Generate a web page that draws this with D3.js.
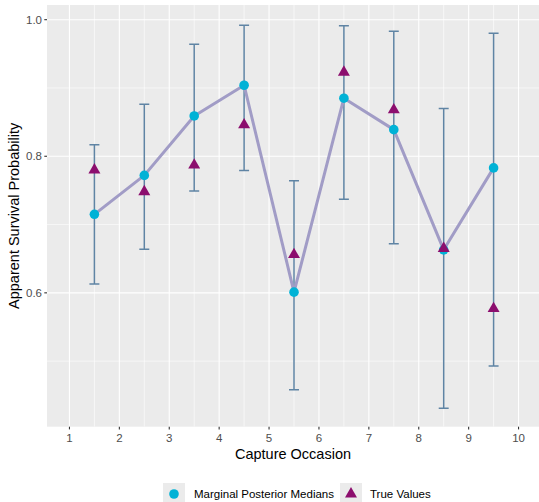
<!DOCTYPE html>
<html>
<head>
<meta charset="utf-8">
<script src="https://cdn.jsdelivr.net/npm/d3@7"></script>
<style>
  html, body { margin: 0; padding: 0; background: #fff; }
  svg { display: block; font-family: "Liberation Sans", Arial, Helvetica, sans-serif; }
</style>
</head>
<body>
<svg id="chart" width="539" height="502"></svg>
<script>
// ---- data ----
const occasions = [1.5, 2.5, 3.5, 4.5, 5.5, 6.5, 7.5, 8.5, 9.5];
const medians   = [0.715, 0.772, 0.859, 0.904, 0.601, 0.885, 0.839, 0.663, 0.783];
const trueVals  = [0.780, 0.748, 0.787, 0.846, 0.656, 0.923, 0.868, 0.665, 0.577];
const lower     = [0.613, 0.664, 0.749, 0.779, 0.458, 0.737, 0.672, 0.431, 0.493];
const upper     = [0.817, 0.876, 0.964, 0.992, 0.764, 0.991, 0.983, 0.870, 0.980];
const xTicks = [1, 2, 3, 4, 5, 6, 7, 8, 9, 10];
const xMinor = [1.5, 2.5, 3.5, 4.5, 5.5, 6.5, 7.5, 8.5, 9.5];
const yTicks = [0.6, 0.8, 1.0];
const yMinor = [0.5, 0.7, 0.9];
const legendLabels = ["Marginal Posterior Medians", "True Values"];

// ---- layout ----
const svg = d3.select("#chart");
const panel = { left: 47, top: 5, right: 541, bottom: 426.7 };
const x = d3.scaleLinear().domain([0.55, 10.45]).range([panel.left, panel.right]);
const y = d3.scaleLinear().domain([0.404, 1.0215]).range([panel.bottom, panel.top]);

const colCircle = "#00B2D6";
const colTri = "#8C0E6E";
const colLine = "#A19CC6";
const colErr = "#5F84A4";

const clip = svg.append("defs").append("clipPath").attr("id", "pclip")
  .append("rect").attr("x", panel.left).attr("y", panel.top)
  .attr("width", panel.right - panel.left).attr("height", panel.bottom - panel.top);

svg.append("rect").attr("x", panel.left).attr("y", panel.top)
  .attr("width", panel.right - panel.left).attr("height", panel.bottom - panel.top)
  .attr("fill", "#EBEBEB");

const g = svg.append("g").attr("clip-path", "url(#pclip)");

// grid
g.selectAll(".ymin").data(yMinor).enter().append("line")
  .attr("x1", panel.left).attr("x2", panel.right)
  .attr("y1", d => y(d)).attr("y2", d => y(d))
  .attr("stroke", "#fff").attr("stroke-width", 0.6);
g.selectAll(".xmin").data(xMinor).enter().append("line")
  .attr("y1", panel.top).attr("y2", panel.bottom)
  .attr("x1", d => x(d)).attr("x2", d => x(d))
  .attr("stroke", "#fff").attr("stroke-width", 0.6);
g.selectAll(".ymaj").data(yTicks).enter().append("line")
  .attr("x1", panel.left).attr("x2", panel.right)
  .attr("y1", d => y(d)).attr("y2", d => y(d))
  .attr("stroke", "#fff").attr("stroke-width", 1.1);
g.selectAll(".xmaj").data(xTicks).enter().append("line")
  .attr("y1", panel.top).attr("y2", panel.bottom)
  .attr("x1", d => x(d)).attr("x2", d => x(d))
  .attr("stroke", "#fff").attr("stroke-width", 1.1);

// error bars
const capHalf = 0.1;
occasions.forEach((o, i) => {
  const eg = g.append("g").attr("stroke", colErr).attr("stroke-width", 1.5);
  eg.append("line").attr("x1", x(o)).attr("x2", x(o)).attr("y1", y(lower[i])).attr("y2", y(upper[i]));
  eg.append("line").attr("x1", x(o - capHalf)).attr("x2", x(o + capHalf)).attr("y1", y(lower[i])).attr("y2", y(lower[i]));
  eg.append("line").attr("x1", x(o - capHalf)).attr("x2", x(o + capHalf)).attr("y1", y(upper[i])).attr("y2", y(upper[i]));
});

// line through medians
const lineGen = d3.line().x((d, i) => x(occasions[i])).y(d => y(d));
g.append("path").datum(medians).attr("d", lineGen)
  .attr("fill", "none").attr("stroke", colLine).attr("stroke-width", 3)
  .attr("stroke-linejoin", "round");

// circles
g.selectAll(".med").data(medians).enter().append("circle")
  .attr("cx", (d, i) => x(occasions[i])).attr("cy", d => y(d))
  .attr("r", 4.8).attr("fill", colCircle);

// triangles
const triSym = d3.symbol().type(d3.symbolTriangle).size(62);
g.selectAll(".tri").data(trueVals).enter().append("path")
  .attr("d", triSym)
  .attr("transform", (d, i) => `translate(${x(occasions[i])},${y(d)})`)
  .attr("fill", colTri);

// axes ticks & labels
const axisCol = "#333333";
const textCol = "#4D4D4D";
yTicks.forEach(t => {
  svg.append("line").attr("x1", panel.left - 2.7).attr("x2", panel.left)
    .attr("y1", y(t)).attr("y2", y(t)).attr("stroke", axisCol).attr("stroke-width", 1.1);
  svg.append("text").attr("x", panel.left - 5).attr("y", y(t)).attr("dy", "0.35em")
    .attr("text-anchor", "end").attr("font-size", 11.5).attr("fill", textCol).text(t.toFixed(1));
});
xTicks.forEach(t => {
  svg.append("line").attr("x1", x(t)).attr("x2", x(t))
    .attr("y1", panel.bottom).attr("y2", panel.bottom + 2.7).attr("stroke", axisCol).attr("stroke-width", 1.1);
  svg.append("text").attr("x", x(t)).attr("y", panel.bottom + 15.5)
    .attr("text-anchor", "middle").attr("font-size", 11.5).attr("fill", textCol).text(t);
});

// axis titles
svg.append("text").attr("x", (panel.left + panel.right) / 2 - 1).attr("y", 459)
  .attr("text-anchor", "middle").attr("font-size", 14.5).attr("fill", "#000").text("Capture Occasion");
svg.append("text")
  .attr("transform", `translate(19,${(panel.top + panel.bottom) / 2}) rotate(-90)`)
  .attr("text-anchor", "middle").attr("font-size", 14.5).attr("fill", "#000")
  .text("Apparent Survival Probability");

// legend
const legY = 494;
const lg = svg.append("g");
const keyW = 22;
const key1x = 163, key2x = 340;
lg.append("rect").attr("x", key1x).attr("y", legY - 11).attr("width", keyW).attr("height", 22).attr("fill", "#EBEBEB");
lg.append("rect").attr("x", key2x).attr("y", legY - 11).attr("width", keyW).attr("height", 22).attr("fill", "#EBEBEB");
lg.append("circle").attr("cx", key1x + keyW / 2).attr("cy", legY).attr("r", 4.8).attr("fill", colCircle);
lg.append("path").attr("d", triSym).attr("transform", `translate(${key2x + keyW / 2},${legY})`).attr("fill", colTri);
lg.append("text").attr("x", 194).attr("y", legY).attr("dy", "0.35em").attr("font-size", 11.5).attr("fill", "#000").text(legendLabels[0]);
lg.append("text").attr("x", 370).attr("y", legY).attr("dy", "0.35em").attr("font-size", 11.5).attr("fill", "#000").text(legendLabels[1]);
</script>
</body>
</html>
